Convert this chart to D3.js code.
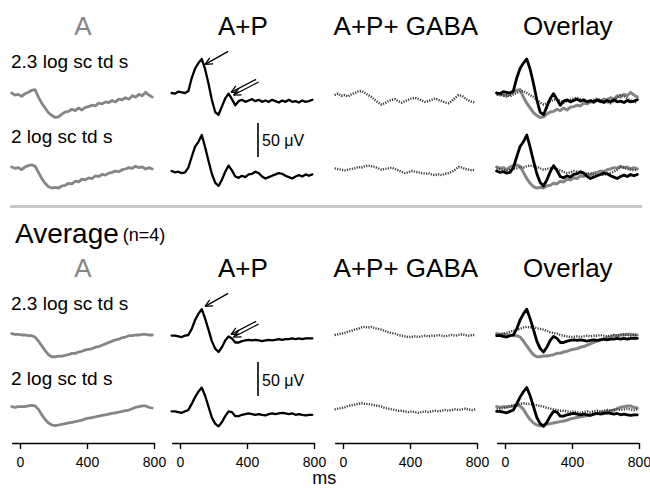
<!DOCTYPE html>
<html>
<head>
<meta charset="utf-8">
<script src="https://cdn.jsdelivr.net/npm/d3@7"></script>
<style>
  body { margin: 0; background: #fff; }
  text { font-family: "Liberation Sans", Arial, sans-serif; }
</style>
</head>
<body>
<div id="chart"></div>
<script>
// sample times (ms) shared by every trace
const ms = [-50, -30, -10, 10, 30, 50, 70, 90, 110, 130, 150, 170, 190, 210, 230, 250, 270, 290, 310, 330,
  350, 370, 390, 410, 430, 450, 470, 490, 510, 530, 550, 570, 590, 610, 630, 650, 670, 690, 710, 730, 750, 770, 790];

const columns = ['A', 'A+P', 'A+P+ GABA', 'Overlay'];
const rowLabels = ['2.3 log sc td s', '2 log sc td s', '2.3 log sc td s', '2 log sc td s'];
const xTicks = [0, 400, 800];

// single animal, µV
const a23 = [0, -3, -2, -5, -1, 1, 4, 5, -6, -15, -22, -29, -33, -36, -35, -31, -28, -27, -24, -26, -22, -25, -21, -20, -18, -19,
  -15, -16, -13, -14, -11, -13, -9, -10, -7, -9, -4, -6, -2, -4, 1, -3, -6];
const a2 = [3, 1, 2, -1, 3, 5, 6, 4, -5, -14, -21, -26, -28, -27, -28, -25, -24, -21, -22, -18, -19, -15, -16, -13, -14, -10,
  -11, -8, -9, -6, -5, -3, -4, -1, 0, 2, 1, 4, 2, 3, 0, 2, 0];
const ap23 = [0, -1, 2, 1, 0, 3, 22, 36, 44, 50, 35, 14, -10, -28, -32, -20, -8, -1, -9, -18, -12, -10, -13, -11, -9, -12,
  -10, -13, -11, -13, -10, -12, -14, -11, -13, -10, -13, -12, -14, -11, -13, -12, -10];
const ap2 = [-3, -5, -4, -6, -5, 2, 18, 33, 40, 50, 32, 12, -7, -20, -25, -16, -4, 5, -2, -11, -13, -10, -12, -8, -7, -4,
  -6, -11, -14, -12, -10, -8, -6, -7, -10, -12, -14, -11, -9, -11, -8, -10, -8];
const apg23 = [-3, -1, -4, -3, -5, -2, 0, 2, 3, 0, -3, -6, -10, -14, -17, -15, -12, -10, -9, -12, -14, -12, -10, -8, -7, -9,
  -11, -13, -12, -10, -8, -10, -12, -14, -15, -12, -7, -3, -4, -8, -11, -13, -14];
const apg2 = [1, 0, -1, -2, -1, 0, 1, 3, 2, 4, 5, 4, 3, 1, -1, 0, 1, 2, 0, -2, -4, -6, -5, -3, -4, -5, -6, -7, -6, -8,
  -9, -8, -9, -7, -6, -4, -1, 3, 2, 0, -1, -2, -1];

// average (n=4), µV
const avgA23 = [2, 1, 1, 0, 0, -1, -1, -3, -9, -16, -23, -29, -32, -32, -31, -31, -30, -29, -27, -27, -25, -24, -22, -21,
  -20, -18, -17, -15, -13, -11, -9, -7, -6, -4, -3, -1, -1, 0, 0, 1, 1, 0, 0];
const avgA2 = [2, 1, 2, 2, 2, 3, 4, 3, -2, -10, -17, -22, -25, -26, -25, -24, -23, -22, -21, -20, -19, -18, -16, -15, -14,
  -13, -12, -11, -10, -9, -8, -7, -6, -5, -4, -3, -1, 1, 2, 3, 3, 1, 0];
const avgAP23 = [-1, -1, -2, -3, -1, 0, 9, 22, 31, 38, 24, 8, -9, -20, -25, -18, -8, -2, -5, -11, -11, -9, -8, -7, -8, -7,
  -8, -9, -8, -7, -8, -7, -6, -7, -6, -6, -5, -6, -5, -6, -5, -5, -5];
const avgAP2 = [-5, -5, -6, -7, -5, -3, 6, 16, 24, 30, 18, 2, -14, -23, -27, -21, -12, -5, -6, -12, -12, -10, -9, -8, -9,
  -10, -9, -10, -11, -9, -8, -9, -8, -7, -8, -9, -8, -10, -9, -10, -11, -10, -10];
const avgAPG23 = [0, 1, 2, 3, 5, 6, 8, 9, 11, 12, 11, 12, 10, 9, 8, 6, 4, 3, 2, 0, -1, -2, -3, -3, -2, -3, -2, -1, -2, -1,
  -1, 0, -1, -2, -1, 0, -1, 0, 1, 0, -1, 0, 0];
const avgAPG2 = [-2, -1, 0, 1, 3, 4, 5, 6, 7, 6, 6, 5, 4, 3, 2, 0, -1, -2, -3, -4, -4, -5, -6, -5, -6, -7, -6, -5, -6, -5,
  -4, -5, -4, -3, -4, -3, -2, -3, -2, -1, -2, -3, -2];

const rows = [
  {A: a23, AP: ap23, APG: apg23},
  {A: a2, AP: ap2, APG: apg2},
  {A: avgA23, AP: avgAP23, APG: avgAPG23},
  {A: avgA2, AP: avgAP2, APG: avgAPG2}
];

const width = 650, height = 488;
const colZero = [20, 180, 343, 505];
const pxPerMs = 0.1675;
const baselines = [93, 169, 335, 408];
const pxPerUv = 0.68;
const grey = '#858585';

const svg = d3.select('#chart').append('svg')
  .attr('width', width).attr('height', height)
  .style('background', '#fff');

const xs = colZero.map(c => d3.scaleLinear().domain([-50, 800]).range([c - 50 * pxPerMs, c + 800 * pxPerMs]));
const ys = baselines.map(b => d3.scaleLinear().domain([-50, 50]).range([b + 50 * pxPerUv, b - 50 * pxPerUv]));

function drawTrace(col, row, vals, style, w) {
  const line = d3.line().x((d, i) => xs[col](ms[i])).y(d => ys[row](d));
  const p = svg.append('path').datum(vals)
    .attr('d', line).attr('fill', 'none')
    .attr('stroke-linejoin', 'round').attr('stroke-linecap', 'round');
  if (style === 'A') p.attr('stroke', grey).attr('stroke-width', w || 2.8);
  if (style === 'AP') p.attr('stroke', '#000').attr('stroke-width', w || 2.3);
  if (style === 'APG') p.attr('stroke', '#3a3a3a').attr('stroke-width', 2.4)
    .attr('stroke-dasharray', '1.2 1.3').attr('stroke-linecap', 'butt');
}

rows.forEach((r, ri) => {
  drawTrace(0, ri, r.A, 'A');
  drawTrace(1, ri, r.AP, 'AP');
  drawTrace(2, ri, r.APG, 'APG');
  drawTrace(3, ri, r.A, 'A', 3);
  drawTrace(3, ri, r.APG, 'APG');
  drawTrace(3, ri, r.AP, 'AP', 2.8);
});

// column titles
[35, 277].forEach(ty => {
  columns.forEach((name, i) => {
    svg.append('text')
      .attr('x', (xs[i].range()[0] + xs[i].range()[1]) / 2).attr('y', ty)
      .attr('text-anchor', 'middle').attr('font-size', 26)
      .attr('fill', i === 0 ? grey : '#000')
      .text(name);
  });
});

// row labels
[68, 143, 310, 385].forEach((ty, i) => {
  svg.append('text').attr('x', 11).attr('y', ty).attr('font-size', 19).text(rowLabels[i]);
});

// separator
svg.append('line').attr('x1', 10).attr('x2', 642).attr('y1', 206.5).attr('y2', 206.5)
  .attr('stroke', '#c8c8c8').attr('stroke-width', 3);

const avg = svg.append('text').attr('x', 15).attr('y', 243).attr('font-size', 28).text('Average');
avg.append('tspan').attr('font-size', 18).attr('dx', 4).attr('dy', -2).text('(n=4)');

// scale bars 50 µV
[{row: 1, y: 146}, {row: 3, y: 386}].forEach(s => {
  const bottom = baselines[s.row] - 12;
  svg.append('line').attr('x1', 258).attr('x2', 258)
    .attr('y1', bottom).attr('y2', bottom - 50 * pxPerUv)
    .attr('stroke', '#000').attr('stroke-width', 1.6);
  svg.append('text').attr('x', 262).attr('y', s.y).attr('font-size', 16).text('50 \u03bcV');
});

// arrows: tip at [ms, µV] on A+P traces, tail offset in px
function arrow(row, t, v, dx, dy) {
  const x = xs[1](t), y = ys[row](v);
  const g = svg.append('g').attr('stroke', '#000').attr('stroke-width', 1.3).attr('fill', 'none');
  g.append('line').attr('x1', x).attr('y1', y).attr('x2', x + dx).attr('y2', y + dy);
  const ang = Math.atan2(dy, dx), len = 8, spread = 0.45;
  [ang - spread, ang + spread].forEach(a => {
    g.append('line').attr('x1', x).attr('y1', y).attr('x2', x + len * Math.cos(a)).attr('y2', y + len * Math.sin(a));
  });
}
[0, 2].forEach(row => {
  arrow(row, 150, 42, 23, -13);
  arrow(row, 305, 1, 25, -13);
  arrow(row, 320, -3, 25, -13);
});

// time axes
const axisY = 443;
xs.forEach(x => {
  const g = svg.append('g').attr('transform', `translate(0,${axisY})`)
    .call(d3.axisBottom(x).tickValues(xTicks).tickSize(6).tickSizeOuter(0).tickPadding(8));
  g.select('.domain').attr('stroke-width', 1.6);
  g.selectAll('.tick line').attr('stroke-width', 1.4);
  g.selectAll('text').attr('font-size', 14).attr('font-family', '"Liberation Sans", Arial, sans-serif');
});
svg.append('text').attr('x', (xs[1].range()[1] + xs[2].range()[0]) / 2).attr('y', 484)
  .attr('text-anchor', 'middle').attr('font-size', 18).text('ms');
</script>
</body>
</html>
